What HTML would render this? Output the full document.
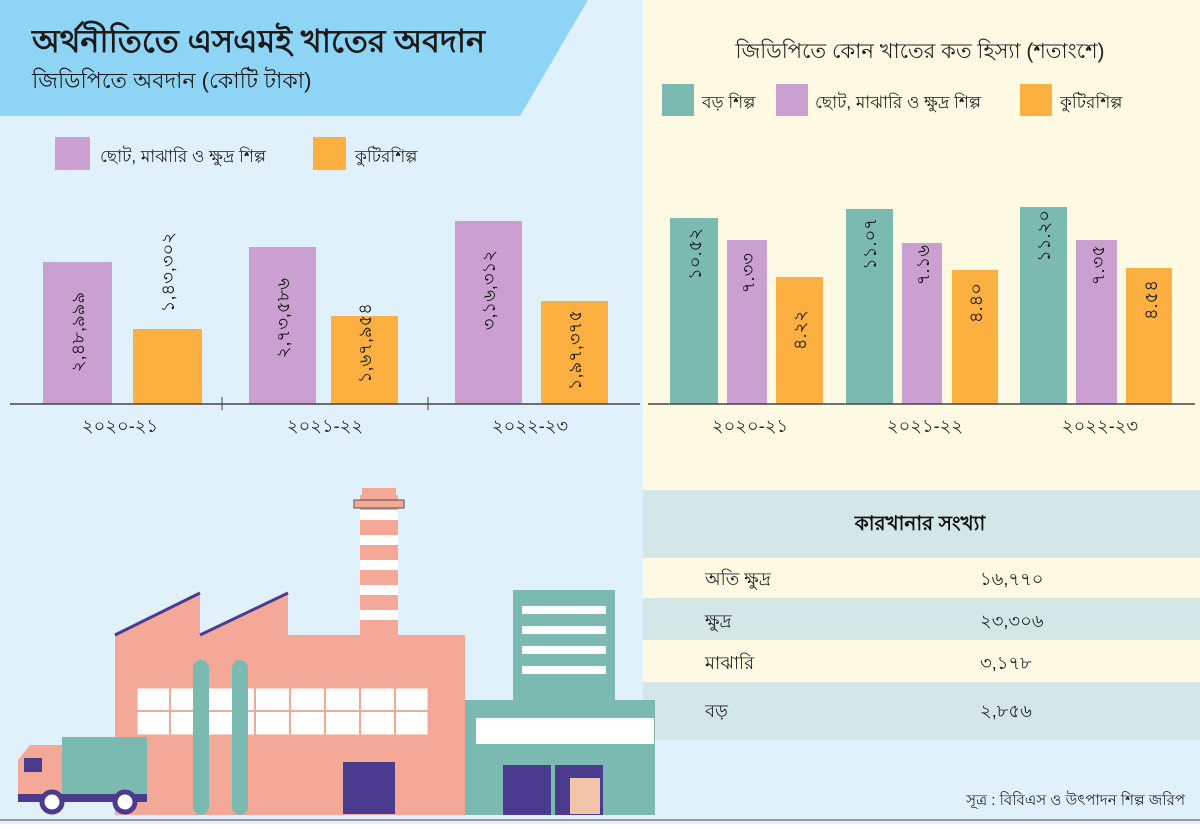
<!DOCTYPE html>
<html><head><meta charset="utf-8">
<style>
body{margin:0;width:1200px;height:824px;overflow:hidden;font-family:"Liberation Sans","Noto Sans CJK SC",sans-serif;}
svg text{font-family:"Liberation Sans","Noto Sans CJK SC",sans-serif;}
</style></head><body>
<svg width="1200" height="824" viewBox="0 0 1200 824" xmlns="http://www.w3.org/2000/svg">
<rect width="1200" height="824" fill="#e0f1fb"/>
<polygon points="0,0 588,0 520,116 0,116" fill="#8ed4f5"/>
<text x="32" y="52" font-size="32" font-weight="bold" fill="#1a1a1a">অর্থনীতিতে এসএমই খাতের অবদান</text>
<text x="32" y="88" font-size="22" fill="#1a1a1a">জিডিপিতে অবদান (কোটি টাকা)</text>
<rect x="643" y="0" width="557" height="490" fill="#fdf9e2"/>
<rect x="55" y="137" width="35" height="33" fill="#c9a0d0"/>
<text x="100" y="162" font-size="17" fill="#222">ছোট, মাঝারি ও ক্ষুদ্র শিল্প</text>
<rect x="313" y="137" width="33" height="33" fill="#fbb040"/>
<text x="355" y="162" font-size="17" fill="#222">কুটিরশিল্প</text>
<g>
<rect x="43" y="262" width="69" height="142" fill="#c9a0d0"/>
<rect x="133" y="329" width="69" height="75" fill="#fbb040"/>
<rect x="249" y="247" width="67" height="157" fill="#c9a0d0"/>
<rect x="331" y="316" width="67" height="88" fill="#fbb040"/>
<rect x="455" y="221" width="67" height="183" fill="#c9a0d0"/>
<rect x="541" y="301" width="67" height="103" fill="#fbb040"/>
</g>
<g font-size="18" fill="#111" text-anchor="end">
<text transform="translate(84,292) rotate(-90)">২,৪৮,৯৯৯</text>
<text transform="translate(174,232) rotate(-90)">১,৪৩,৩০২</text>
<text transform="translate(289,278) rotate(-90)">২,৭৩,৫৮৬</text>
<text transform="translate(371,303) rotate(-90)">১,৬৭,৯৫৪</text>
<text transform="translate(495,250) rotate(-90)">৩,১৬,৩১২</text>
<text transform="translate(581,310) rotate(-90)">১,৯৭,৩৭৫</text>
</g>
<line x1="10" y1="404" x2="640" y2="404" stroke="#444" stroke-width="1.5"/>
<line x1="222" y1="397" x2="222" y2="410" stroke="#444"/>
<line x1="428" y1="397" x2="428" y2="410" stroke="#444"/>
<g font-size="18" fill="#222" text-anchor="middle">
<text x="120" y="432">২০২০-২১</text><text x="325" y="432">২০২১-২২</text><text x="530" y="432">২০২২-২৩</text>
</g>
<text x="920" y="58" font-size="21" fill="#222" text-anchor="middle">জিডিপিতে কোন খাতের কত হিস্যা (শতাংশে)</text>
<rect x="662" y="84" width="32" height="32" fill="#7bbab0"/>
<text x="702" y="108" font-size="17" fill="#222">বড় শিল্প</text>
<rect x="776" y="84" width="32" height="32" fill="#c9a0d0"/>
<text x="815" y="108" font-size="17" fill="#222">ছোট, মাঝারি ও ক্ষুদ্র শিল্প</text>
<rect x="1020" y="84" width="32" height="32" fill="#fbb040"/>
<text x="1060" y="108" font-size="17" fill="#222">কুটিরশিল্প</text>
<rect x="670" y="218" width="48" height="186" fill="#7bbab0"/>
<rect x="727" y="240" width="40" height="164" fill="#c9a0d0"/>
<rect x="776" y="277" width="47" height="127" fill="#fbb040"/>
<rect x="846" y="209" width="47" height="195" fill="#7bbab0"/>
<rect x="902" y="243" width="40" height="161" fill="#c9a0d0"/>
<rect x="952" y="270" width="46" height="134" fill="#fbb040"/>
<rect x="1020" y="207" width="47" height="197" fill="#7bbab0"/>
<rect x="1076" y="240" width="41" height="164" fill="#c9a0d0"/>
<rect x="1126" y="268" width="46" height="136" fill="#fbb040"/>
<g font-size="18" fill="#111" text-anchor="end">
<text transform="translate(701,228) rotate(-90)">১০.৫২</text>
<text transform="translate(754,253) rotate(-90)">৭.৩৩</text>
<text transform="translate(806,310) rotate(-90)">৪.২২</text>
<text transform="translate(876,218) rotate(-90)">১১.০৭</text>
<text transform="translate(929,245) rotate(-90)">৭.১৬</text>
<text transform="translate(982,283) rotate(-90)">৪.৪০</text>
<text transform="translate(1050,210) rotate(-90)">১১.২০</text>
<text transform="translate(1104,245) rotate(-90)">৭.৩৫</text>
<text transform="translate(1157,280) rotate(-90)">৪.৫৪</text>
</g>
<line x1="648" y1="404" x2="1195" y2="404" stroke="#444" stroke-width="1.5"/>
<g font-size="18" fill="#222" text-anchor="middle">
<text x="750" y="432">২০২০-২১</text><text x="925" y="432">২০২১-২২</text><text x="1100" y="432">২০২২-২৩</text>
</g>
<rect x="643" y="490" width="557" height="68" fill="#d3e7e6"/>
<text x="920" y="530" font-size="20" font-weight="bold" fill="#111" text-anchor="middle">কারখানার সংখ্যা</text>
<rect x="643" y="558" width="557" height="40" fill="#fdf9e2"/>
<rect x="643" y="598" width="557" height="42" fill="#d3e7e6"/>
<rect x="643" y="640" width="557" height="42" fill="#fdf9e2"/>
<rect x="643" y="682" width="557" height="58" fill="#d3e7e6"/>
<g font-size="18" fill="#222">
<text x="705" y="585">অতি ক্ষুদ্র</text><text x="980" y="585">১৬,৭৭০</text>
<text x="705" y="627">ক্ষুদ্র</text><text x="980" y="627">২৩,৩০৬</text>
<text x="705" y="669">মাঝারি</text><text x="980" y="669">৩,১৭৮</text>
<text x="705" y="717">বড়</text><text x="980" y="717">২,৮৫৬</text>
</g>
<text x="1185" y="805" font-size="15" fill="#222" text-anchor="end">সূত্র : বিবিএস ও উৎপাদন শিল্প জরিপ</text>
<line x1="0" y1="820" x2="1200" y2="820" stroke="#999" stroke-width="2"/>
<rect x="360" y="495" width="38" height="140" fill="#f4a898"/>
<g fill="#fff"><rect x="360" y="510" width="38" height="10"/><rect x="360" y="535" width="38" height="10"/><rect x="360" y="560" width="38" height="10"/><rect x="360" y="585" width="38" height="10"/><rect x="360" y="610" width="38" height="10"/></g>
<rect x="354" y="500" width="50" height="8" fill="#f4a898" stroke="#555"/>
<rect x="362" y="488" width="34" height="8" fill="#f4a898"/>
<polygon points="115,635 200,593 200,635 288,593 288,635 465,635 465,815 115,815" fill="#f4a898"/>
<line x1="115" y1="635" x2="200" y2="593" stroke="#4b3b8f" stroke-width="3"/>
<line x1="200" y1="635" x2="288" y2="593" stroke="#4b3b8f" stroke-width="3"/>
<rect x="137" y="688" width="291" height="47" fill="#fff" stroke="#f4a898"/>
<g stroke="#f4a898" stroke-width="2"><line x1="170" y1="688" x2="170" y2="735"/><line x1="255" y1="688" x2="255" y2="735"/><line x1="290" y1="688" x2="290" y2="735"/><line x1="325" y1="688" x2="325" y2="735"/><line x1="360" y1="688" x2="360" y2="735"/><line x1="395" y1="688" x2="395" y2="735"/><line x1="137" y1="711" x2="428" y2="711"/></g>
<rect x="193" y="660" width="16" height="155" rx="8" fill="#7bbab0"/>
<rect x="232" y="660" width="16" height="155" rx="8" fill="#7bbab0"/>
<rect x="343" y="762" width="52" height="52" fill="#4b3b8f"/>
<rect x="513" y="590" width="102" height="110" fill="#7bbab0"/>
<g fill="#fff"><rect x="522" y="606" width="84" height="8"/><rect x="522" y="626" width="84" height="8"/><rect x="522" y="646" width="84" height="8"/><rect x="522" y="666" width="84" height="8"/></g>
<rect x="465" y="700" width="190" height="115" fill="#7bbab0"/>
<rect x="476" y="718" width="178" height="26" fill="#fff"/>
<rect x="503" y="765" width="48" height="50" fill="#4b3b8f"/>
<rect x="555" y="765" width="48" height="50" fill="#4b3b8f"/>
<rect x="570" y="778" width="30" height="36" fill="#f2c5a8"/>
<rect x="62" y="737" width="85" height="57" fill="#7bbab0"/>
<polygon points="18,760 30,745 62,745 62,795 18,795" fill="#f4a898"/>
<rect x="24" y="758" width="18" height="14" fill="#4b3b8f"/>
<rect x="18" y="794" width="129" height="8" fill="#4b3b8f"/>
<circle cx="52" cy="802" r="10" fill="#fff" stroke="#4b3b8f" stroke-width="5"/>
<circle cx="125" cy="802" r="10" fill="#fff" stroke="#4b3b8f" stroke-width="5"/>
</svg>
</body></html>
